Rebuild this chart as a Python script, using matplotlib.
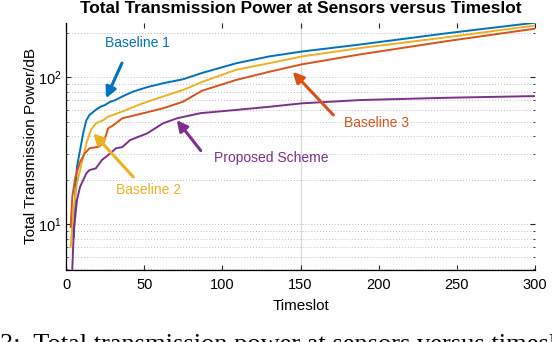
import matplotlib
matplotlib.use("Agg")
import matplotlib.pyplot as plt
from matplotlib import ticker

plt.rcParams['font.family'] = ['Liberation Sans', 'DejaVu Sans']
plt.rcParams['mathtext.default'] = 'regular'

# Baseline 1 (blue)
t_b1 = [5, 6, 7, 9, 11, 13, 15, 19, 22, 25, 28, 31, 36, 43, 52, 62, 75, 87, 109, 130, 151, 188, 245, 300]
p_b1 = [8.2, 17, 24.6, 32, 41.8, 51, 55.4, 60, 63, 64.8, 68, 69.5, 74, 80, 85.7, 91, 97, 107, 124.6, 138.6, 149.7, 167, 200, 235]
# Baseline 2 (yellow)
t_b2 = [3, 5, 7, 10, 13, 16, 19, 24, 27, 36, 49, 62, 75, 87, 109, 130, 151, 188, 245, 300]
p_b2 = [7.0, 13.2, 19, 26, 35.5, 44, 48.5, 51.2, 54, 58.5, 66.5, 74, 82, 93, 112.6, 124.6, 138.6, 158, 188, 225]
# Baseline 3 (red)
t_b3 = [3, 4, 6, 9, 12, 15, 21, 24, 27, 30, 36, 49, 62, 75, 87, 109, 130, 151, 188, 245, 300]
p_b3 = [9.6, 15.4, 21, 26.6, 30.4, 32.9, 33.7, 36, 45, 47, 52.6, 56.8, 61.5, 68.3, 81, 96, 109, 122.5, 143, 177, 214]
# Proposed scheme (purple)
t_ps = [4, 5, 7, 9, 13, 15, 19, 23, 27, 32, 36, 41, 52, 62, 71, 86, 109, 130, 151, 188, 245, 300]
p_ps = [4.9, 9.2, 14.6, 18, 22.2, 23.4, 24, 27.4, 29.6, 32.9, 33.5, 37.4, 41.6, 48.6, 52.6, 57, 60, 63, 66.5, 70, 72.6, 74.5]

C_B1, C_B2, C_B3, C_PS = '#0072BD', '#EDB120', '#D95319', '#7E2F8E'

fig = plt.figure(figsize=(5.52, 3.42), dpi=100)
ax = fig.add_axes([0.1196, 0.2105, 0.8496, 0.7231])

ax.axvline(150, color='#d8d8d8', lw=0.9, zorder=0)
ax.plot(t_b1, p_b1, color=C_B1, lw=1.4)
ax.plot(t_b2, p_b2, color=C_B2, lw=1.4)
ax.plot(t_b3, p_b3, color=C_B3, lw=1.4)
ax.plot(t_ps, p_ps, color=C_PS, lw=1.4)

ax.set_yscale('log')
ax.set_xlim(0, 300)
ax.set_ylim(4.89, 235)
ax.set_xticks([0, 50, 100, 150, 200, 250, 300])
ax.yaxis.set_minor_locator(ticker.LogLocator(base=10, subs=range(2, 10)))
ax.yaxis.set_minor_formatter(ticker.NullFormatter())
ax.grid(which='both', axis='y', color='#a8a8a8', lw=0.6, linestyle=(0, (1, 2.5)))

for s in ['top', 'right']:
    ax.spines[s].set_visible(False)
for s in ['left', 'bottom']:
    ax.spines[s].set_linewidth(0.9)
ax.tick_params(which='both', direction='in', top=True, right=True, labelsize=10.5, color='#262626')
ax.tick_params(which='major', length=3.5)
ax.tick_params(which='minor', length=1.5)
ax.tick_params(axis='x', pad=6)

ax.set_title('Total Transmission Power at Sensors versus Timeslot', fontsize=12.4,
             fontweight='bold', pad=7)
ax.set_xlabel('Timeslot', fontsize=11, labelpad=5)
ax.set_ylabel('Total Transmission Power/dB', fontsize=11, labelpad=0)

arrow = dict(arrowstyle='-|>', lw=2.2, mutation_scale=16, shrinkA=0, shrinkB=0)
ax.annotate('', xy=(25.6, 72), xytext=(35.8, 125), arrowprops=dict(arrow, color=C_B1))
ax.text(45.8, 171, 'Baseline 1', color=C_B1, fontsize=10, ha='center', va='center')
ax.annotate('', xy=(17.5, 41.6), xytext=(43, 21), arrowprops=dict(arrow, color=C_B2))
ax.text(53, 17.1, 'Baseline 2', color=C_B2, fontsize=10, ha='center', va='center')
ax.annotate('', xy=(145, 109), xytext=(171, 55.4), arrowprops=dict(arrow, color=C_B3))
ax.text(198.5, 48.7, 'Baseline 3', color=C_B3, fontsize=10, ha='center', va='center')
ax.annotate('', xy=(70.8, 51.2), xytext=(86.2, 31.7), arrowprops=dict(arrow, color=C_PS))
ax.text(131, 28.1, 'Proposed Scheme', color=C_PS, fontsize=10, ha='center', va='center')

# cropped caption of the paper figure, only its top edge shows
fig.text(0.0, -0.026, '3:  Total transmission power at sensors versus timeslot',
         family=['Liberation Serif', 'DejaVu Serif'], fontsize=19, ha='left', va='baseline')

fig.savefig('out.png', dpi=100)
